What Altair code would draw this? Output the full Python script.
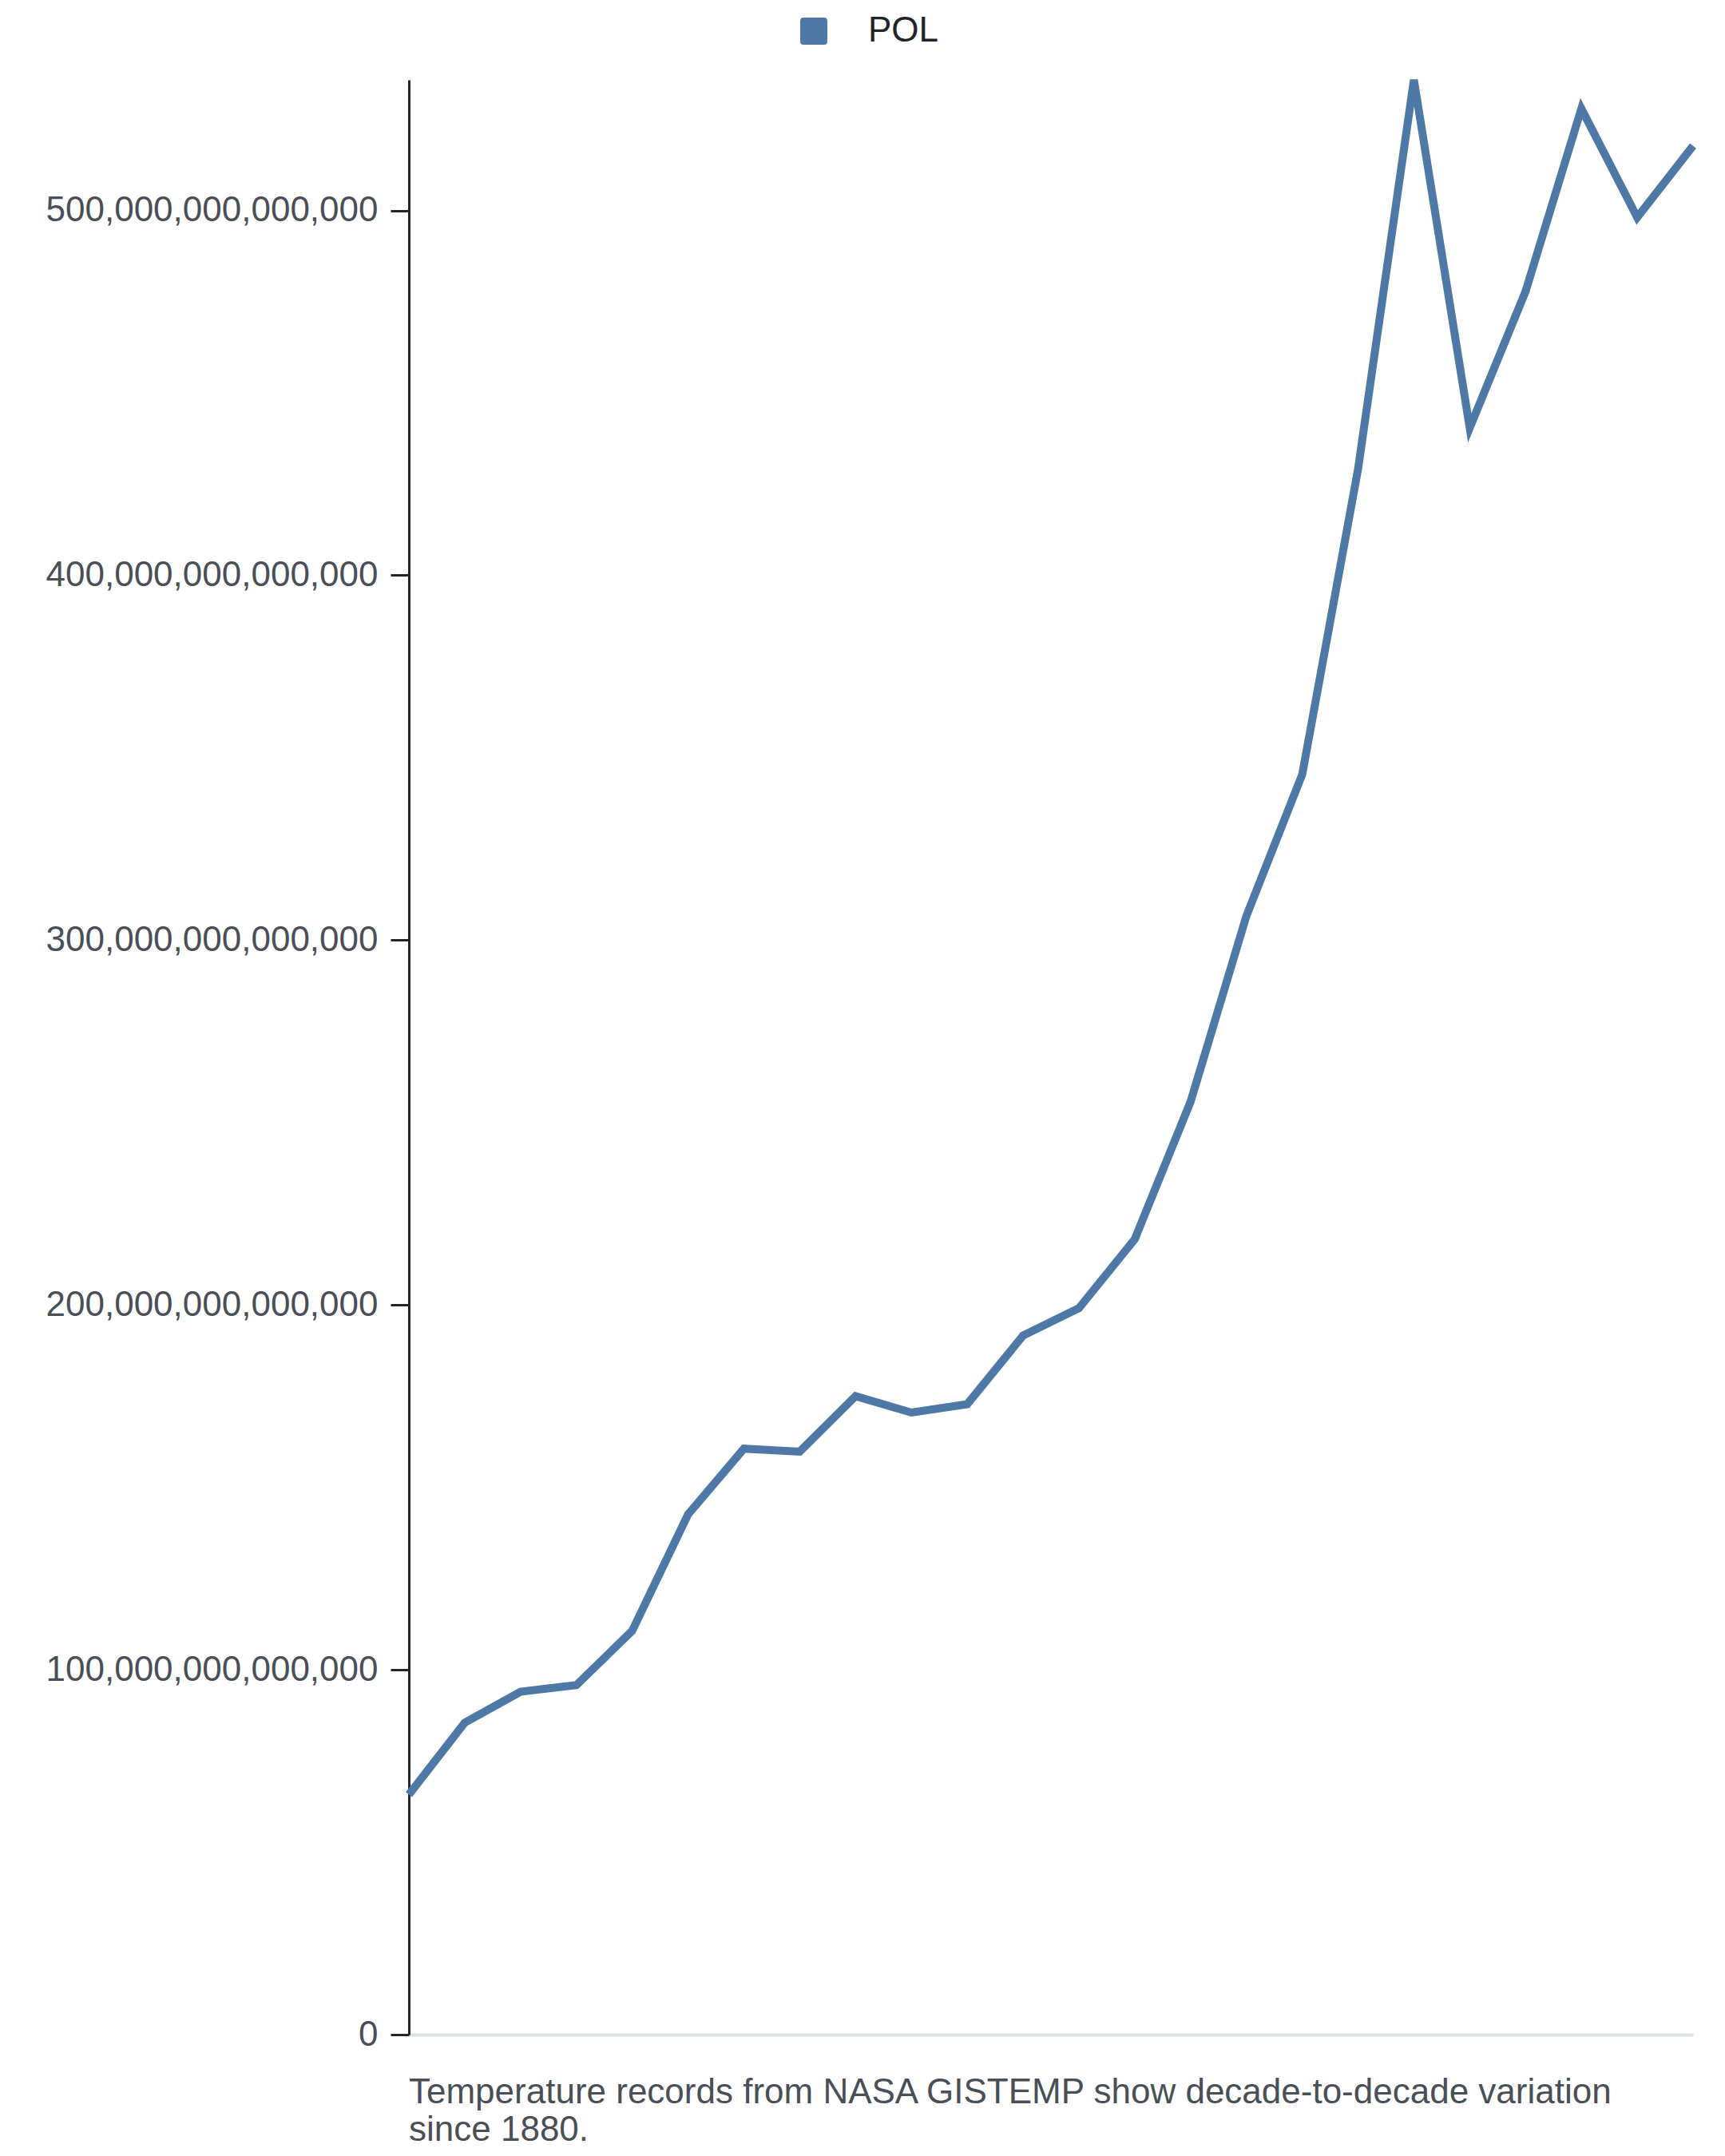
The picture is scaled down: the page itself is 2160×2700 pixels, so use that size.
import altair as alt
import pandas as pd

years = list(range(2000, 2024))
values = [65.8e12, 85.5e12, 94.0e12, 95.8e12, 110.7e12, 142.6e12, 160.6e12, 159.8e12,
          175.0e12, 170.5e12, 172.8e12, 191.6e12, 199.1e12, 218.0e12, 255.7e12, 306.6e12,
          345.4e12, 429.1e12, 535.8e12, 440.4e12, 477.8e12, 527.9e12, 498.1e12, 517.7e12]
series = ["POL"] * len(years)

df = pd.DataFrame({"year": years, "value": values, "country": series})

FONT = "Liberation Sans"
ROUNDED_SQUARE = ("M -0.75,-1 L 0.75,-1 Q 1,-1 1,-0.75 L 1,0.75 Q 1,1 0.75,1 "
                  "L -0.75,1 Q -1,1 -1,0.75 L -1,-0.75 Q -1,-1 -0.75,-1 Z")

chart = alt.Chart(df).mark_line(strokeWidth=10, strokeJoin="miter").encode(
    x=alt.X("year:Q", scale=alt.Scale(nice=False, zero=False),
            axis=alt.Axis(title=None, labels=False, ticks=False, grid=False,
                          domainColor="#dde0e4", domainWidth=4)),
    y=alt.Y("value:Q", scale=alt.Scale(nice=False, zero=True),
            axis=alt.Axis(title=None, grid=False, format=",.0f",
                          values=[0, 1e14, 2e14, 3e14, 4e14, 5e14],
                          labelFont=FONT, labelFontSize=44, labelColor="#4a4f57",
                          labelLimit=1000,
                          labelPadding=16, tickSize=23, tickWidth=3, tickColor="#212529",
                          domainColor="#212529", domainWidth=3)),
    color=alt.Color("country:N", scale=alt.Scale(range=["#4e79a7"]),
                    legend=alt.Legend(title=None, orient="none", legendX=485, legendY=-83,
                                      symbolType=ROUNDED_SQUARE, symbolSize=1156,
                                      symbolStrokeWidth=0, symbolFillColor="#4e79a7",
                                      labelFont=FONT, labelFontSize=44, labelColor="#212529",
                                      labelOffset=46, padding=0)),
).properties(
    width=1608,
    height=2448,
    padding={"left": 49, "top": 9, "right": 5, "bottom": 5},
    title=alt.TitleParams(
        text=["Temperature records from NASA GISTEMP show decade-to-decade variation",
              "since 1880."],
        orient="bottom", anchor="start", frame="group", font=FONT, fontSize=44,
        fontWeight="normal", color="#4a4f57", lineHeight=47, offset=29),
).configure_view(stroke=None)

chart.save("out.html", embed_options={"renderer": "svg", "actions": False})
